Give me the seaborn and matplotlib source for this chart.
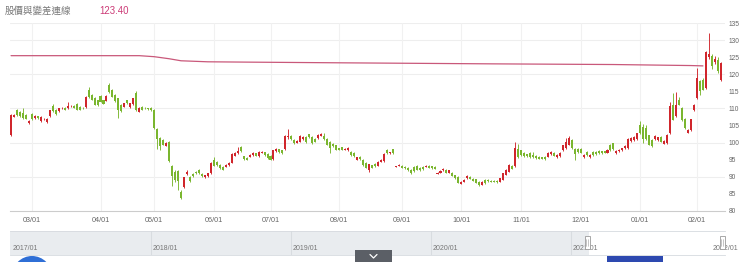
import numpy as np
import pandas as pd
import matplotlib
matplotlib.use("Agg")
import matplotlib.pyplot as plt
import seaborn as sns
from matplotlib.patches import Rectangle, Circle

# ---------------- data ----------------
title_text = "股價與變差連線"
title_value = "123.40"

opens = [102.2, 107.6, 109.6, 109.1, 108.6, 108.1, 105.7, 108.3, 107.2, 107.7,
         106.2, 106.9, 106.0, 107.7, 110.7, 109.6, 109.2, 110.0, 110.2, 110.1,
         110.6, 110.7, 111.3, 110.5, 110.2, 110.4, 115.4, 114.0, 113.0, 112.4,
         113.6, 112.4, 112.3, 116.9, 115.5, 113.9, 113.0, 111.0, 110.5, 112.4,
         110.4, 111.3, 114.6, 109.1, 110.5, 110.1, 110.0, 110.1, 109.6, 103.9,
         101.2, 100.7, 99.1, 100.2, 93.0, 91.4, 91.6, 85.6, 87.1, 90.8,
         90.0, 90.9, 91.4, 91.9, 90.9, 89.9, 90.2, 91.0, 94.9, 94.3,
         93.4, 92.8, 92.9, 93.4, 94.1, 96.2, 96.8, 98.7, 96.0, 95.6,
         95.9, 96.4, 96.8, 96.0, 97.0, 97.1, 96.6, 96.1, 95.1, 97.4,
         98.0, 97.7, 98.0, 101.5, 101.9, 100.8, 100.0, 100.3, 100.9, 101.7,
         102.4, 101.6, 101.0, 101.3, 102.0, 102.0, 101.0, 100.2, 99.7, 99.2,
         98.3, 98.6, 97.9, 97.8, 97.3, 96.9, 95.0, 95.9, 94.9, 94.0,
         92.0, 93.3, 93.8, 93.2, 94.4, 94.5, 97.8, 96.8, 98.0, 92.9,
         93.2, 93.2, 92.9, 92.5, 91.9, 92.9, 93.1, 92.5, 92.8, 92.9,
         93.1, 93.0, 92.8, 90.9, 91.2, 91.8, 92.0, 91.2, 91.1, 90.4,
         90.0, 87.9, 88.5, 89.5, 90.0, 89.4, 89.2, 88.5, 87.6, 89.0,
         89.1, 88.7, 88.7, 88.7, 88.5, 89.1, 90.6, 91.5, 93.2, 93.0,
         98.0, 97.7, 97.0, 96.5, 96.9, 96.4, 96.1, 95.9, 95.7, 95.8,
         95.9, 96.6, 96.9, 95.7, 96.0, 97.8, 98.4, 99.4, 100.7, 98.2,
         98.2, 98.1, 95.7, 97.3, 95.8, 97.2, 97.2, 97.5, 97.4, 97.4,
         97.0, 99.3, 99.8, 96.9, 97.5, 97.8, 98.3, 98.4, 100.4, 100.8,
         101.0, 105.1, 104.6, 104.2, 102.1, 100.8, 101.0, 100.8, 101.6, 99.7,
         99.8, 102.7, 111.0, 107.7, 112.4, 110.0, 107.0, 102.9, 103.6, 109.6,
         113.0, 118.0, 118.3, 116.0, 125.0, 125.3, 123.6, 124.2, 118.4]
highs = [108.3, 108.5, 109.9, 109.3, 110.1, 108.3, 106.5, 108.6, 108.0, 107.9,
         107.8, 107.3, 107.2, 109.7, 111.2, 109.8, 110.2, 110.3, 110.4, 112.0,
         110.9, 110.9, 111.5, 110.7, 110.4, 113.6, 116.2, 114.3, 113.3, 112.6,
         113.9, 112.6, 113.9, 117.4, 115.8, 114.2, 113.2, 111.3, 111.7, 112.6,
         111.7, 113.2, 115.0, 110.3, 110.7, 110.3, 110.2, 110.3, 109.9, 104.2,
         101.5, 101.0, 100.2, 100.5, 93.3, 91.8, 91.9, 86.0, 90.0, 92.0,
         90.3, 91.2, 91.6, 92.1, 91.1, 90.6, 91.2, 94.3, 95.9, 94.6,
         93.6, 93.0, 93.6, 94.3, 96.9, 97.1, 98.8, 98.9, 96.2, 95.8,
         96.5, 97.2, 97.0, 97.5, 97.4, 97.3, 96.8, 96.3, 97.9, 98.4,
         98.2, 97.9, 102.1, 104.0, 102.1, 101.0, 100.8, 102.1, 101.8, 101.9,
         102.6, 101.8, 101.2, 102.4, 102.7, 102.8, 101.2, 100.4, 99.9, 99.4,
         98.5, 98.8, 98.4, 98.7, 97.5, 97.1, 95.9, 96.1, 95.1, 94.2,
         93.8, 93.5, 94.0, 94.6, 95.2, 96.8, 98.0, 97.3, 98.2, 93.2,
         93.6, 93.4, 93.1, 92.7, 92.1, 93.1, 93.3, 92.7, 93.0, 93.4,
         93.3, 93.2, 93.0, 91.3, 91.8, 92.4, 92.2, 92.0, 91.3, 90.6,
         90.2, 88.7, 89.2, 90.4, 90.2, 89.6, 89.4, 88.7, 88.7, 89.2,
         89.3, 88.9, 88.9, 88.9, 89.7, 91.2, 92.2, 93.6, 93.4, 100.2,
         99.5, 97.9, 97.2, 96.7, 97.1, 97.3, 96.3, 96.1, 95.9, 96.0,
         97.2, 97.5, 97.1, 96.6, 97.2, 99.4, 101.3, 101.8, 100.9, 98.4,
         98.4, 98.3, 96.6, 97.5, 96.6, 97.4, 97.4, 97.7, 97.6, 97.6,
         98.0, 99.5, 100.0, 97.7, 98.1, 98.5, 99.2, 101.2, 101.5, 101.9,
         102.9, 106.2, 105.5, 105.2, 102.3, 101.0, 102.2, 101.7, 101.8, 100.8,
         102.4, 112.0, 114.5, 114.9, 113.5, 110.3, 107.3, 103.9, 107.0, 111.2,
         121.8, 118.3, 119.0, 126.8, 132.1, 126.0, 125.5, 125.0, 123.6]
lows = [102.0, 107.4, 107.9, 107.6, 107.0, 106.8, 105.3, 106.5, 107.0, 107.0,
        106.0, 106.7, 105.8, 107.5, 108.9, 108.1, 109.0, 109.8, 109.5, 109.8,
        110.3, 110.0, 109.5, 109.5, 109.8, 110.1, 113.2, 112.4, 110.9, 110.8,
        111.8, 111.2, 112.1, 114.5, 113.3, 111.9, 107.1, 109.0, 110.3, 111.3,
        110.2, 111.1, 109.4, 108.9, 109.5, 109.9, 109.7, 109.4, 104.0, 98.0,
        97.8, 99.2, 98.9, 94.2, 87.2, 88.5, 86.2, 83.5, 86.8, 90.5,
        88.3, 89.9, 90.8, 90.8, 89.9, 89.7, 90.0, 90.8, 93.0, 93.2,
        92.3, 91.8, 92.7, 93.2, 93.9, 96.0, 96.6, 97.2, 95.0, 94.8,
        95.7, 96.2, 96.0, 95.8, 96.8, 96.2, 95.3, 94.8, 94.9, 97.2,
        96.9, 96.7, 97.8, 101.0, 100.7, 99.7, 99.8, 100.1, 100.7, 99.9,
        101.4, 99.7, 100.1, 101.1, 101.8, 100.7, 99.2, 96.9, 98.7, 97.7,
        97.7, 97.7, 97.7, 97.6, 96.2, 95.9, 94.8, 94.9, 93.1, 92.4,
        91.4, 92.4, 92.8, 93.0, 94.2, 94.3, 96.7, 96.6, 96.7, 92.7,
        93.0, 92.4, 92.2, 91.6, 90.8, 91.4, 91.8, 91.6, 92.0, 92.7,
        92.4, 92.3, 92.1, 90.7, 91.0, 91.6, 91.0, 91.0, 90.1, 89.3,
        88.0, 87.7, 88.3, 89.3, 89.2, 88.6, 88.0, 87.2, 87.4, 87.9,
        88.4, 88.3, 88.3, 88.2, 88.3, 88.9, 90.4, 91.3, 92.1, 92.8,
        95.6, 96.2, 95.8, 95.8, 95.5, 95.5, 95.3, 95.1, 95.1, 94.9,
        95.7, 96.4, 96.0, 95.5, 95.8, 97.6, 98.2, 99.2, 98.2, 94.9,
        97.0, 96.8, 95.5, 96.2, 95.6, 96.2, 96.4, 96.7, 96.7, 96.8,
        96.8, 97.5, 97.9, 96.7, 97.3, 97.6, 98.1, 98.2, 100.2, 100.6,
        100.8, 102.6, 100.0, 100.8, 99.2, 98.7, 100.8, 100.6, 100.1, 99.5,
        99.6, 102.5, 106.5, 107.5, 110.9, 106.2, 104.1, 102.7, 103.4, 109.4,
        112.8, 114.0, 115.3, 115.8, 124.6, 121.5, 123.0, 120.3, 118.0]
closes = [108.1, 108.2, 108.1, 107.8, 107.2, 107.0, 106.2, 106.8, 107.8, 107.2,
          107.6, 107.0, 107.0, 109.5, 109.2, 108.3, 110.0, 110.1, 109.7, 110.8,
          110.6, 110.2, 109.7, 109.7, 110.0, 113.3, 113.5, 112.6, 111.1, 111.0,
          112.0, 111.4, 113.6, 114.7, 113.5, 112.1, 109.6, 109.2, 111.5, 111.5,
          111.5, 113.0, 109.7, 110.0, 109.7, 110.0, 109.9, 109.6, 104.2, 100.9,
          99.1, 99.4, 100.0, 94.5, 90.1, 89.1, 88.6, 83.8, 89.8, 91.5,
          88.6, 90.1, 91.0, 91.0, 90.1, 90.4, 91.0, 94.1, 93.2, 93.4,
          92.5, 92.0, 93.4, 94.1, 96.7, 96.9, 97.5, 97.4, 95.2, 95.0,
          96.3, 97.0, 96.2, 97.3, 97.2, 96.4, 95.5, 95.0, 97.7, 98.2,
          97.1, 96.9, 101.9, 102.0, 100.9, 99.9, 100.6, 101.9, 101.6, 100.1,
          101.6, 99.9, 100.3, 102.2, 102.5, 100.9, 99.4, 98.4, 98.9, 97.9,
          97.9, 97.9, 98.2, 98.5, 96.4, 96.1, 95.7, 95.1, 93.3, 92.6,
          93.6, 92.6, 93.0, 94.4, 95.0, 96.6, 96.9, 97.1, 96.9, 93.1,
          93.5, 92.6, 92.4, 91.8, 91.0, 91.6, 92.0, 91.8, 92.2, 93.2,
          92.6, 92.5, 92.3, 91.1, 91.6, 92.2, 91.2, 91.8, 90.3, 89.5,
          88.2, 88.5, 89.0, 90.2, 89.4, 88.8, 88.2, 87.4, 88.5, 88.1,
          88.6, 88.5, 88.5, 88.4, 89.5, 91.0, 92.0, 93.4, 92.3, 98.4,
          95.8, 96.4, 96.0, 96.0, 95.7, 95.7, 95.5, 95.3, 95.3, 95.1,
          97.0, 97.3, 96.2, 96.4, 97.0, 99.2, 100.2, 101.2, 98.4, 96.5,
          97.2, 97.0, 96.4, 96.4, 96.4, 96.4, 96.6, 96.9, 96.9, 97.0,
          97.8, 97.7, 98.1, 97.5, 97.9, 98.3, 99.0, 101.0, 101.3, 101.7,
          102.7, 102.8, 101.0, 101.0, 99.4, 98.9, 102.0, 101.5, 100.3, 100.6,
          102.2, 110.6, 106.7, 111.0, 111.1, 106.7, 104.3, 103.7, 106.8, 111.0,
          118.9, 115.0, 115.5, 126.6, 125.9, 122.4, 124.5, 120.9, 123.4]

# index of the first trading day of each month
month_labels = ["03/01", "04/01", "05/01", "06/01", "07/01", "08/01",
                "09/01", "10/01", "11/01", "12/01", "01/01", "02/01"]
month_idx = [7, 30, 48, 68, 87, 110, 131, 151, 171, 191, 211, 230]

# reference line (day index, value)
line_idx = [0, 43, 48, 53, 57, 66, 80, 111, 161, 202, 228, 232]
line_vals = [125.5, 125.5, 125.2, 124.6, 124.0, 123.7, 123.6, 123.4, 123.1, 122.9, 122.6, 122.5]

y_ticks = [80, 85, 90, 95, 100, 105, 110, 115, 120, 125, 130, 135]
grid_levels = [90, 100, 110, 120, 130, 135]

nav_labels = ["2017/01", "2018/01", "2019/01", "2020/01", "2021/01", "2022/01"]
nav_years = [2017, 2018, 2019, 2020, 2021, 2022]
nav_window = [2021.13, 2022.12]

# ---------------- style ----------------
sns.set_theme(style="white")
plt.rcParams['font.family'] = ['Liberation Sans', 'Noto Sans CJK TC', 'DejaVu Sans']

UP = "#d0262c"
DOWN = "#7ab62f"
LINE = "#c9587a"
TXT = "#666666"

W, H = 740, 262
fig = plt.figure(figsize=(W / 100, H / 100), dpi=100)
fig.patch.set_facecolor("white")

ax_l, ax_r, ax_t, ax_b = 10, 725, 23.3, 210.7
ax = fig.add_axes([ax_l / W, 1 - ax_b / H, (ax_r - ax_l) / W, (ax_b - ax_t) / H])

df = pd.DataFrame({"open": opens, "high": highs, "low": lows, "close": closes})
df["idx"] = np.arange(len(df))
df["up"] = df["close"] >= df["open"]
df["bottom"] = df[["open", "close"]].min(axis=1)
df["height"] = (df["close"] - df["open"]).abs().clip(lower=0.15)
cols = np.where(df["up"], UP, DOWN)

# grid
for g in grid_levels:
    ax.axhline(g, color="#eeeeee", lw=0.8, zorder=0)
for m in month_idx:
    ax.axvline(m, color="#f1f1f1", lw=0.8, zorder=0)

# reference line
sns.lineplot(x=line_idx, y=line_vals, ax=ax, color=LINE, lw=0.9, zorder=2)

# candles
ax.vlines(df["idx"], df["low"], df["high"], colors=cols, lw=0.65, zorder=3)
ax.bar(df["idx"], df["height"], bottom=df["bottom"], width=0.68, color=cols,
       linewidth=0, zorder=4)

ax.set_xlim(-0.35, 239.4)
ax.set_ylim(80, 135)
for s in ["top", "left", "right"]:
    ax.spines[s].set_visible(False)
ax.spines["bottom"].set_color("#cccccc")
ax.spines["bottom"].set_linewidth(0.8)

ax.yaxis.tick_right()
ax.set_yticks(y_ticks)
ax.set_yticklabels([str(v) for v in y_ticks])
ax.set_xticks(month_idx)
ax.set_xticklabels(month_labels)
ax.tick_params(axis="y", length=0, pad=2.5, labelsize=4.8, labelcolor=TXT)
ax.tick_params(axis="x", length=0, pad=4.5, labelsize=5.2, labelcolor=TXT)
ax.set_xlabel("")
ax.set_ylabel("")
ax.grid(False)

# title
fig.text(5 / W, 1 - 10.5 / H, title_text, fontsize=6.8, color="#777777",
         va="center", ha="left", family=["Noto Sans CJK TC", "DejaVu Sans"])
fig.text(99 / W, 1 - 10.5 / H, title_value, fontsize=6.9, color="#cc3a76",
         va="center", ha="left")

# ---------------- navigator ----------------
nav_top, nav_bot = 231, 255
nav = fig.add_axes([ax_l / W, 1 - nav_bot / H, (ax_r - ax_l) / W, (nav_bot - nav_top) / H])
nav.set_xlim(2016.993, 2022.1)
nav.set_ylim(0, 1)
nav.axvspan(2016.993, nav_window[0], color="#e9ecef", lw=0, zorder=0)
for yr in nav_years[1:5]:
    nav.axvline(yr, color="#d8dce0", lw=0.8, zorder=1)
for lab, yr in zip(nav_labels, nav_years):
    nav.text(yr + 0.015, 0.28, lab, fontsize=5, color="#777777", ha="left", va="center",
             zorder=3, clip_on=False)
nav.set_xticks([])
nav.set_yticks([])
for s in nav.spines.values():
    s.set_color("#d6dadf")
    s.set_linewidth(0.6)
nav.spines["left"].set_visible(False)
nav.spines["right"].set_visible(False)
nav.set_facecolor("white")

# ---------------- UI overlay ----------------
ui = fig.add_axes([0, 0, 1, 1], zorder=10)
ui.set_xlim(0, W)
ui.set_ylim(H, 0)
ui.axis("off")
ui.patch.set_alpha(0)
for hx in [587, 722]:
    ui.add_patch(Rectangle((hx - 2.5, 236), 5, 13, facecolor="white",
                           edgecolor="#9a9a9a", lw=0.6))
    ui.plot([hx - 0.6, hx - 0.6], [239, 246], color="#9a9a9a", lw=0.4)
    ui.plot([hx + 0.6, hx + 0.6], [239, 246], color="#9a9a9a", lw=0.4)
ui.add_patch(Rectangle((355, 250), 37, 13, facecolor="#5b5f66", edgecolor="none"))
ui.plot([370, 373.5, 377], [254.5, 258, 254.5], color="white", lw=0.9)
ui.add_patch(Circle((32, 276), 20, facecolor="#2f6fd6", edgecolor="none"))
ui.add_patch(Rectangle((607, 256), 56, 8, facecolor="#2d49b0", edgecolor="none"))

fig.savefig("out.png", dpi=100, facecolor="white")
